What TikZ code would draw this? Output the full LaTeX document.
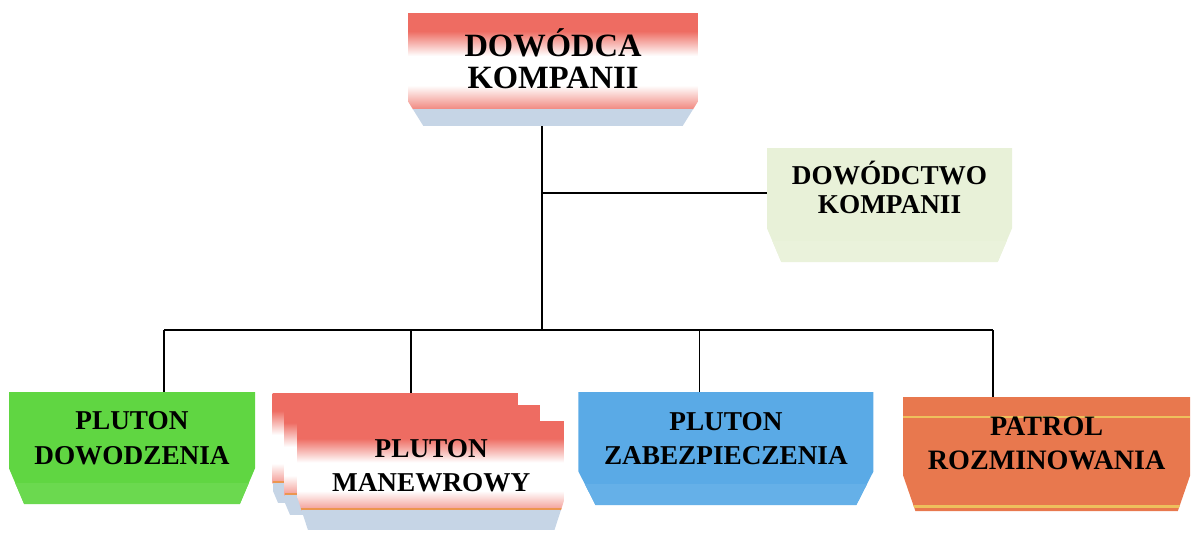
\documentclass[tikz,border=0pt]{standalone}
\usepackage{fontspec}
\setmainfont{Liberation Serif}
\usetikzlibrary{positioning}
\usetikzlibrary{calc}
\usetikzlibrary{shapes.misc}
\usetikzlibrary{backgrounds}
\definecolor{boxred}{RGB}{238,108,98}
\definecolor{bandblue}{RGB}{198,213,230}
\definecolor{boxline}{RGB}{236,150,80}
\definecolor{palegreen}{RGB}{232,241,216}
\definecolor{boxgreen}{RGB}{96,214,66}
\definecolor{boxblue}{RGB}{90,170,230}
\definecolor{boxorange}{RGB}{232,120,78}
\definecolor{stripe}{RGB}{238,192,92}
\pgfdeclareverticalshading{redfade}{100bp}{color(0bp)=(boxred); color(30bp)=(boxred);
  color(43bp)=(white); color(56bp)=(white); color(67bp)=(boxred); color(100bp)=(boxred)}
\tikzset{
  unit/.style     = { chamfered rectangle, chamfered rectangle corners={south west,south east},
                      chamfered rectangle angle=23, chamfered rectangle ysep=0.42cm,
                      inner sep=0pt, align=center, text height=27.2pt, text depth=8.8pt,
                      font=\bfseries\fontsize{15.5}{19.5}\selectfont },
  solid/.style    = { unit, fill=#1, path picture={
                        \fill [#1!93!white] (path picture bounding box.south west)
                          rectangle ($(path picture bounding box.south east)+(0,0.42)$);
                      } },
  redunit/.style  = { unit, path picture={
                        \shade [shading=redfade] (path picture bounding box.north west)
                          rectangle ($(path picture bounding box.south east)+(0,0.34)$);
                        \fill [bandblue] (path picture bounding box.south west)
                          rectangle ($(path picture bounding box.south east)+(0,0.34)$);
                      } },
  stack/.style    = { unit, path picture={
                        \shade [shading=redfade] (path picture bounding box.north west)
                          rectangle ($(path picture bounding box.south east)+(0,0.4)$);
                        \fill [bandblue] (path picture bounding box.south west)
                          rectangle ($(path picture bounding box.south east)+(0,0.4)$);
                        \draw [boxline, line width=1.2pt] ($(path picture bounding box.south west)+(0,0.42)$)
                          -- ($(path picture bounding box.south east)+(0,0.42)$);
                      } },
  patrol/.style   = { unit, fill=boxorange, path picture={
                        \draw [stripe, line width=1.2pt] ($(path picture bounding box.north west)+(0,-0.4)$)
                          -- ($(path picture bounding box.north east)+(0,-0.4)$);
                        \draw [stripe, line width=1.2pt] ($(path picture bounding box.south west)+(0,0.09)$)
                          -- ($(path picture bounding box.south east)+(0,0.09)$);
                      } },
  link/.style     = { line width=1pt, black },
}

\begin{document}
\begin{tikzpicture}
  \useasboundingbox (0,0) rectangle (23.82,-10.64);

  \node (dk)    [redunit, minimum width=5.8cm, minimum height=2.26cm, chamfered rectangle angle=32,
                 chamfered rectangle ysep=0.32cm, text height=30.6pt, text depth=9.4pt,
                 font=\bfseries\fontsize{18.5}{18}\selectfont]
                at (11.06,-1.39) {DOWÓDCA\\KOMPANII};
  \node (dkomp) [solid=palegreen, minimum width=4.9cm, minimum height=2.28cm,
                 text height=23.9pt, text depth=14.1pt, font=\bfseries\fontsize{15.5}{16.5}\selectfont]
                at (17.79,-4.10) {DOWÓDCTWO\\KOMPANII};

  \node (pdow)  [solid=boxgreen, minimum width=4.92cm, minimum height=2.24cm,
                 chamfered rectangle ysep=0.46cm] at (2.64,-8.96) {PLUTON\\DOWODZENIA};
  \node (pman)  [stack, minimum width=5.34cm, minimum height=2.18cm, chamfered rectangle angle=18,
                 chamfered rectangle ysep=0.3cm, right=0.84cm of pdow, yshift=-0.55cm] {PLUTON\\MANEWROWY};
  \node (pzab)  [solid=boxblue, minimum width=5.9cm, minimum height=2.26cm, chamfered rectangle angle=27,
                 chamfered rectangle ysep=0.46cm, right=0.26cm of pman, yshift=0.54cm] {PLUTON\\ZABEZPIECZENIA};
  \node (ppat)  [patrol, minimum width=5.74cm, minimum height=2.28cm, chamfered rectangle angle=19,
                 chamfered rectangle ysep=0.4cm, right=0.58cm of pzab, yshift=-0.11cm,
                 text height=27.9pt, text depth=10.1pt,
                 font=\bfseries\fontsize{16}{19.5}\selectfont] {PATROL\\ROZMINOWANIA};

  % stacked copies behind the maneuver platoon
  \begin{scope}[on background layer]
    \node (pmanA) [stack, minimum width=4.92cm, minimum height=2.2cm, anchor=north west]
                  at ($(pman.north west)+(-0.5,0.56)$) {};
    \node (pmanB) [stack, minimum width=5.12cm, minimum height=2.2cm, anchor=north west]
                  at ($(pman.north west)+(-0.26,0.32)$) {};
  \end{scope}

  \coordinate (bus) at (10.84,-6.6);
  \draw [link] (dk.south -| bus) -- (bus);
  \draw [link] ([yshift=0.24cm]dkomp.west) -- ([yshift=0.24cm]dkomp.west -| bus);
  \draw [link] ([xshift=0.64cm]pdow.north |- bus) -- ([xshift=-1.07cm]ppat.north |- bus);
  \foreach \n/\dx in {pdow/0.64, pmanA/0.3, pzab/-0.53, ppat/-1.07}
    \draw [link] ([xshift=\dx cm]\n.north) -- ([xshift=\dx cm]\n.north |- bus);
\end{tikzpicture}
\end{document}
